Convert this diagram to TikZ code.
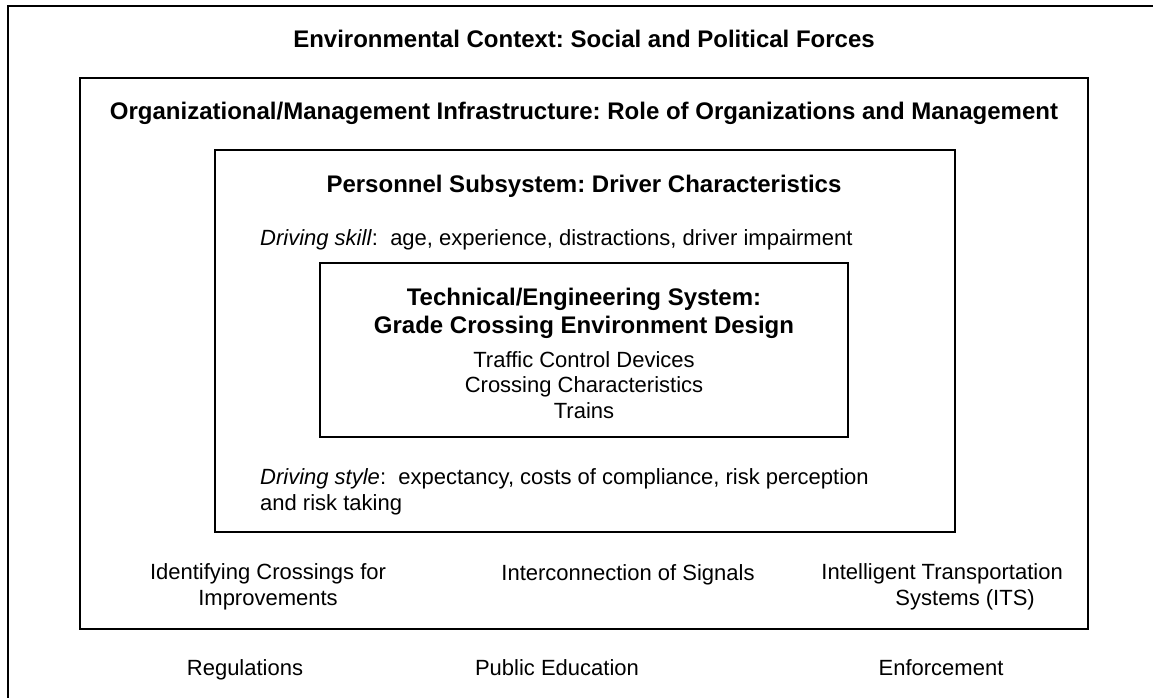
\documentclass[tikz,border=0pt]{standalone}
\usepackage{fontspec}
\setmainfont{Liberation Sans}
\frenchspacing
\begin{document}
\begin{tikzpicture}[x=1pt,y=-1pt,
    frame/.style={line width=1.6pt},
    ttl/.style={anchor=base,inner sep=0pt,font=\fontsize{24}{28}\selectfont\bfseries,align=center},
    txt/.style={anchor=base,inner sep=0pt,font=\fontsize{22}{25.5}\selectfont,align=center}]
    \useasboundingbox (0,0) rectangle (1153,698);
    \clip (0,0) rectangle (1153,698);
    % nested frames, outermost one runs off the page
    \draw [frame] (8,6) rectangle (1162,720);
    \draw [frame] (80,78) rectangle (1088,629);
    \draw [frame] (215,150) rectangle (955,532);
    \draw [frame] (320,263) rectangle (848,437);
    % titles (multi-line nodes sit on their last baseline)
    \node [ttl] (envtitle) at (584,48) {Environmental Context: Social and Political Forces};
    \node [ttl] (orgtitle) at (584,120) {Organizational/Management Infrastructure: Role of Organizations and Management};
    \node [ttl] (pertitle) at (584,192) {Personnel Subsystem: Driver Characteristics};
    \node [ttl] (techtitle) at (584,333) {Technical/Engineering System:\\Grade Crossing Environment Design};
    % personnel subsystem
    \node [txt,anchor=base west] (skill) at (260,245) {\textit{Driving skill}:\ \ age, experience, distractions, driver impairment};
    \node [txt,anchor=base west,align=left] (style) at (260,510) {\textit{Driving style}:\ \ expectancy, costs of compliance, risk perception\\and risk taking};
    % technical system
    \node [txt] (devices) at (584,418) {Traffic Control Devices\\Crossing Characteristics\\Trains};
    % organizational level
    \node [txt] (identify) at (268,605) {Identifying Crossings for\\Improvements};
    \node [txt] (signals) at (628,580) {Interconnection of Signals};
    \node [txt,anchor=base east,align=right] (its) at (1063,605) {Intelligent Transportation\\Systems (ITS)\hspace*{28pt}};
    % environmental level
    \node [txt] (regs) at (245,675) {Regulations};
    \node [txt] (educ) at (557,675) {Public Education};
    \node [txt] (enforce) at (941,675) {Enforcement};
\end{tikzpicture}
\end{document}
